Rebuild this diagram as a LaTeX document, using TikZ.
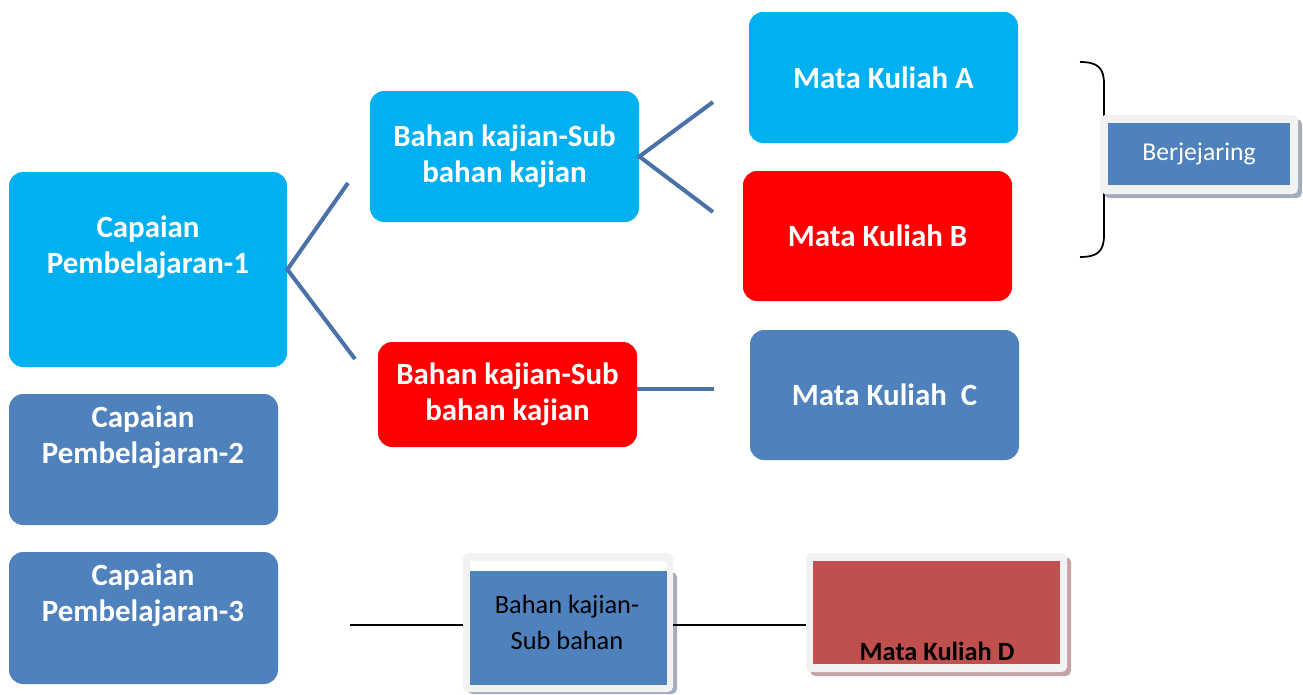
\documentclass[tikz,border=0pt]{standalone}
\usepackage{fontspec}
\setmainfont{Carlito}
\usetikzlibrary{positioning,fit}
\definecolor{cyanbox}{HTML}{00B0F0}
\definecolor{bluebox}{HTML}{4F81BD}
\definecolor{redbox}{HTML}{FF0000}
\definecolor{darkred}{HTML}{C0504D}
\definecolor{connblue}{HTML}{4A71A8}
\definecolor{framegray}{HTML}{F2F2F2}
\definecolor{shadowgray}{HTML}{A3ADBE}
\definecolor{shadowred}{HTML}{C4A4A4}
\tikzset{
  box/.style={rounded corners=8pt, inner sep=0pt},
  boxtext/.style={text=white, align=center, inner sep=0pt,
    font=\bfseries\fontsize{17.6}{20.5}\selectfont},
  framebox/.style={fill=framegray, rounded corners=3pt, inner sep=0pt},
  conn/.style={color=connblue, line width=2.3pt},
  plainline/.style={line width=0.8pt}
}
\begin{document}
\begin{tikzpicture}[x=0.02cm,y=-0.02cm]
   \useasboundingbox (0,0) rectangle (1303,694);
   % capaian pembelajaran
   \node[box,fill=cyanbox,fit={(9,172) (287,367)}] (cp1) {};
   \node[box,fill=bluebox,fit={(9,394) (278,525)}] (cp2) {};
   \node[box,fill=bluebox,fit={(9,552) (278,684)}] (cp3) {};
   \node[boxtext] (cp1t) at (148,247) {Capaian\\Pembelajaran-1};
   \node[boxtext] (cp2t) at (143,437) {Capaian\\Pembelajaran-2};
   \node[boxtext] (cp3t) at (143,595) {Capaian\\Pembelajaran-3};
   % bahan kajian
   \node[box,fill=cyanbox,fit={(370,91) (639,222)},
     label={[boxtext]center:{Bahan kajian-Sub\\bahan kajian}}] (bk1) {};
   \node[box,fill=redbox,fit={(378,342) (637,447)},
     label={[boxtext]center:{Bahan kajian-Sub\\bahan kajian}}] (bk2) {};
   % mata kuliah
   \node[box,fill=cyanbox,fit={(749,12) (1018,143)},
     label={[boxtext]center:Mata Kuliah A}] (mka) {};
   \node[box,fill=redbox,fit={(743,171) (1012,301)},
     label={[boxtext]center:Mata Kuliah B}] (mkb) {};
   \node[box,fill=bluebox,fit={(750,330) (1019,460)},
     label={[boxtext]center:Mata Kuliah\ \ C}] (mkc) {};
   % connectors
   \coordinate (c1a) at (348,183);
   \coordinate (c1b) at (355,359);
   \coordinate (c2a) at (713,102);
   \coordinate (c2b) at (713,212);
   \coordinate (c3) at (714,389);
   \draw[conn] (c1a) -- (cp1.east) -- (c1b);
   \draw[conn] (c2a) -- (bk1.east) -- (c2b);
   \draw[conn] (c3 -| bk2.east) -- (c3);
   % brace
   \draw[line width=1pt]
   (1080,62) .. controls (1098,62) and (1104,68) .. (1104,84) -- (1104,150)
   .. controls (1104,156) and (1108,160) .. (1114,160)
   .. controls (1108,160) and (1104,164) .. (1104,170) -- (1104,235)
   .. controls (1104,251) and (1098,257) .. (1080,257);
   % berjejaring
   \fill[shadowgray,rounded corners=3pt] (1104,119) rectangle (1302,198);
   \node[framebox,fit={(1100,115) (1298,194)}] (bjf) {};
   \node[fill=bluebox,inner sep=0pt,fit={(1108,123) (1290,185)},
     label={[text=white,inner sep=0pt,font=\fontsize{14.6}{17}\selectfont]center:Berjejaring}] (bj) {};
   % bahan kajian 3
   \fill[shadowgray,rounded corners=3pt] (467,572) rectangle (677,694);
   \node[framebox,fit={(463,553) (673,692)}] (bk3f) {};
   \fill[white] (470,561) rectangle (667,571);
   \node[fill=bluebox,inner sep=0pt,fit={(470,571) (667,685)}] (bk3) {};
   \node[align=center,inner sep=0pt,font=\fontsize{15}{20.5}\selectfont] (bk3t) at (567,622)
     {Bahan kajian-\\Sub bahan};
   % mata kuliah D
   \fill[shadowred,rounded corners=3pt] (810,557) rectangle (1071,676);
   \node[framebox,fit={(806,553) (1067,672)}] (mkdf) {};
   \node[fill=darkred,inner sep=0pt,fit={(813,561) (1060,664)}] (mkd) {};
   \node[inner sep=0pt,font=\bfseries\fontsize{15}{18}\selectfont] (mkdt) at (937,651) {Mata Kuliah D};
   \coordinate (c4) at (350,625);
   \draw[plainline] (c4) -- (c4 -| bk3f.west);
   \draw[plainline] (c4 -| bk3f.east) -- (c4 -| mkdf.west);
\end{tikzpicture}
\end{document}
